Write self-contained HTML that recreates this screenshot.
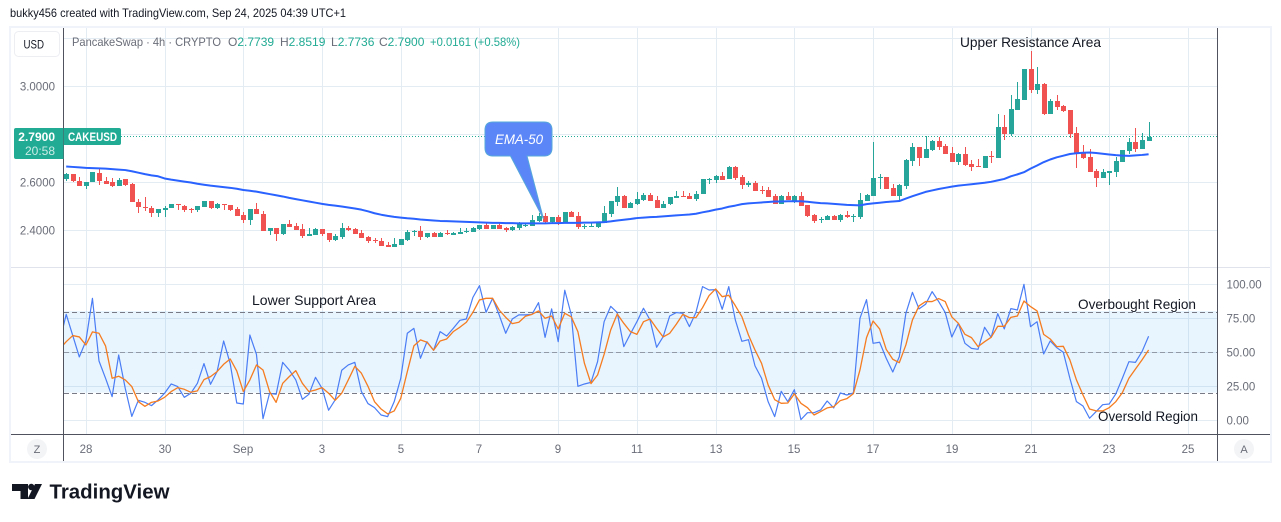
<!DOCTYPE html>
<html lang="en">
<head>
<meta charset="utf-8">
<title>CAKEUSD chart</title>
<style>
html,body{margin:0;padding:0;background:#fff;width:1281px;height:522px;overflow:hidden}
svg{display:block;font-family:"Liberation Sans",sans-serif}
</style>
</head>
<body>
<svg id="chart" xmlns="http://www.w3.org/2000/svg" width="1281" height="522" viewBox="0 0 1281 522">
  <defs>
    <clipPath id="pricePane"><rect x="64" y="28" width="1153" height="239"/></clipPath>
    <clipPath id="rsiPane"><rect x="64" y="268" width="1153" height="166"/></clipPath>
  </defs>
  <text x="10" y="17" font-size="12" fill="#131722" textLength="336" lengthAdjust="spacingAndGlyphs">bukky456 created with TradingView.com, Sep 24, 2025 04:39 UTC+1</text>
  <rect x="10" y="27" width="1261" height="435" fill="#fff" stroke="#f0f3fa" stroke-width="2"/>
  <g id="grid"></g>
  <rect id="rsiBand" x="64" width="1153" fill="#2196f3" fill-opacity="0.1"/>
  <g id="rsiLevels"></g>
  <line id="lastLine" x1="121" x2="1217" stroke="#22ab94" stroke-width="1" stroke-dasharray="1 2"/>
  <g id="candles" clip-path="url(#pricePane)" shape-rendering="crispEdges"></g>
  <path id="emaLine" fill="none" stroke="#2962ff" stroke-width="2" stroke-linejoin="round" clip-path="url(#pricePane)"/>
  <g clip-path="url(#rsiPane)">
    <path id="rsiLine" fill="none" stroke="#4a7df5" stroke-width="1.2" stroke-linejoin="round"/>
    <path id="rsiMaLine" fill="none" stroke="#f57c20" stroke-width="1.3" stroke-linejoin="round"/>
  </g>
  <line x1="11" x2="1270" y1="267.5" y2="267.5" stroke="#e0e3eb"/>
  <line x1="11" x2="1270" y1="434.5" y2="434.5" stroke="#50535e"/>
  <line x1="63.5" x2="63.5" y1="28" y2="461" stroke="#50535e"/>
  <line x1="1217.5" x2="1217.5" y1="28" y2="461" stroke="#50535e"/>

  <g>
    <path d="M493 122H544Q552 122 552 130V148Q552 156 544 156H527L543.5 219L510.5 156H493Q485 156 485 148V130Q485 122 493 122Z" fill="#5b86f8" stroke="#56a8da" stroke-width="1"/>
    <text x="519" y="144" text-anchor="middle" font-size="14" font-style="italic" fill="#fff" textLength="48" lengthAdjust="spacingAndGlyphs">EMA-50</text>
  </g>

  <rect x="14.5" y="31.5" width="45" height="25" rx="4" fill="#fff" stroke="#eceef2"/>
  <text x="23.5" y="48.5" font-size="11.5" fill="#131722" textLength="20.5" lengthAdjust="spacingAndGlyphs">USD</text>

  <g font-size="12">
    <text x="72" y="46" fill="#6a6d78" textLength="149" lengthAdjust="spacingAndGlyphs">PancakeSwap · 4h · CRYPTO</text>
    <text x="228" y="46" fill="#22ab94"><tspan fill="#6a6d78">O</tspan>2.7739</text>
    <text x="280" y="46" fill="#22ab94"><tspan fill="#6a6d78">H</tspan>2.8519</text>
    <text x="331" y="46" fill="#22ab94"><tspan fill="#6a6d78">L</tspan>2.7736</text>
    <text x="379" y="46" fill="#22ab94"><tspan fill="#6a6d78">C</tspan>2.7900</text>
    <text x="430" y="46" fill="#22ab94" textLength="90" lengthAdjust="spacingAndGlyphs">+0.0161 (+0.58%)</text>
  </g>

  <g id="priceTicks"></g>
  <g id="rsiTicks"></g>
  <g id="timeTicks"></g>

  <path d="M16 128H63.5V159H16Q14 159 14 157V130Q14 128 16 128Z" fill="#22ab94"/>
  <text x="55" y="141" text-anchor="end" font-size="12" font-weight="bold" fill="#fff">2.7900</text>
  <text x="55" y="155" text-anchor="end" font-size="12" fill="#c9ece6">20:58</text>
  <path d="M64 128H119Q121 128 121 130V143Q121 145 119 145H64Z" fill="#22ab94"/>
  <text x="92.5" y="141" text-anchor="middle" font-size="12" font-weight="bold" fill="#fff" textLength="49" lengthAdjust="spacingAndGlyphs">CAKEUSD</text>

  <g font-size="14" fill="#131722">
    <text x="960" y="47" textLength="141" lengthAdjust="spacingAndGlyphs">Upper Resistance Area</text>
    <text x="252" y="305" textLength="124" lengthAdjust="spacingAndGlyphs">Lower Support Area</text>
    <text x="1078" y="309" textLength="118" lengthAdjust="spacingAndGlyphs">Overbought Region</text>
    <text x="1098" y="421" textLength="100" lengthAdjust="spacingAndGlyphs">Oversold Region</text>
  </g>

  <circle cx="37" cy="449" r="10" fill="#f3f4f6"/>
  <text x="37" y="453" text-anchor="middle" font-size="11" fill="#6a6d78">Z</text>
  <circle cx="1244" cy="449" r="10" fill="#f3f4f6"/>
  <text x="1244" y="453" text-anchor="middle" font-size="11" fill="#6a6d78">A</text>

  <g>
    <path d="M12 484H28V499H20.5V491H12Z" fill="#131722"/>
    <circle cx="31.3" cy="487" r="3.2" fill="#131722"/>
    <path d="M35 484H42L34.5 499H27.5Z" fill="#131722"/>
    <text x="49.5" y="498.5" font-size="20" font-weight="bold" fill="#131722" textLength="120" lengthAdjust="spacingAndGlyphs">TradingView</text>
  </g>
</svg>

<script>
const opens = [
2.612,2.636,2.607,2.585,2.601,2.640,2.607,2.600,2.585,2.612,
2.592,2.519,2.499,2.494,2.471,2.485,2.493,2.508,2.503,2.488,
2.483,2.496,2.524,2.492,2.508,2.504,2.488,2.462,2.442,2.488,
2.469,2.396,2.408,2.383,2.428,2.417,2.404,2.375,2.379,2.404,
2.388,2.358,2.371,2.408,2.404,2.388,2.371,2.360,2.354,2.338,
2.329,2.338,2.358,2.392,2.396,2.371,2.388,2.371,2.388,2.379,
2.383,2.392,2.392,2.404,2.421,2.404,2.421,2.408,2.400,2.408,
2.417,2.417,2.438,2.458,2.433,2.454,2.433,2.475,2.458,2.414,
2.413,2.413,2.429,2.467,2.517,2.542,2.492,2.508,2.525,2.546,
2.525,2.492,2.508,2.533,2.542,2.542,2.529,2.550,2.611,2.608,
2.625,2.612,2.663,2.621,2.588,2.596,2.567,2.567,2.542,2.508,
2.542,2.521,2.542,2.504,2.463,2.443,2.442,2.458,2.442,2.463,
2.456,2.454,2.521,2.542,2.618,2.621,2.575,2.542,2.583,2.688,
2.746,2.700,2.733,2.771,2.750,2.721,2.683,2.717,2.675,2.667,
2.658,2.708,2.700,2.829,2.800,2.900,2.942,3.071,2.983,3.008,
2.883,2.938,2.917,2.900,2.804,2.721,2.704,2.646,2.617,2.637,
2.642,2.683,2.729,2.767,2.738,2.7739];
const highs = [
2.640,2.636,2.622,2.601,2.644,2.657,2.622,2.617,2.619,2.615,
2.596,2.529,2.540,2.503,2.490,2.500,2.508,2.508,2.506,2.492,
2.503,2.524,2.524,2.514,2.508,2.507,2.496,2.476,2.490,2.512,
2.482,2.408,2.408,2.428,2.442,2.432,2.425,2.408,2.408,2.407,
2.388,2.383,2.429,2.417,2.408,2.400,2.375,2.368,2.367,2.350,
2.367,2.363,2.400,2.400,2.417,2.388,2.392,2.392,2.400,2.392,
2.408,2.408,2.413,2.421,2.429,2.421,2.429,2.413,2.417,2.433,
2.429,2.463,2.471,2.471,2.454,2.463,2.475,2.479,2.475,2.425,
2.429,2.433,2.500,2.521,2.579,2.546,2.517,2.558,2.554,2.554,
2.542,2.521,2.538,2.563,2.563,2.554,2.563,2.612,2.619,2.629,
2.642,2.667,2.667,2.629,2.604,2.604,2.583,2.579,2.550,2.546,
2.558,2.546,2.558,2.504,2.467,2.454,2.463,2.463,2.467,2.479,
2.467,2.554,2.550,2.767,2.633,2.621,2.592,2.592,2.696,2.763,
2.746,2.792,2.775,2.788,2.758,2.746,2.721,2.746,2.692,2.696,
2.708,2.729,2.883,2.879,2.962,3.017,3.071,3.146,3.079,3.012,
2.946,2.962,2.921,2.900,2.829,2.754,2.738,2.654,2.654,2.646,
2.704,2.733,2.783,2.825,2.804,2.8519];
const lows = [
2.604,2.601,2.585,2.572,2.601,2.590,2.592,2.581,2.585,2.585,
2.518,2.471,2.482,2.454,2.457,2.454,2.493,2.486,2.475,2.471,
2.475,2.496,2.488,2.488,2.483,2.481,2.458,2.432,2.421,2.468,
2.396,2.379,2.354,2.379,2.412,2.400,2.367,2.375,2.379,2.376,
2.350,2.354,2.363,2.396,2.383,2.367,2.346,2.346,2.333,2.329,
2.329,2.338,2.354,2.375,2.358,2.367,2.371,2.371,2.379,2.379,
2.383,2.388,2.392,2.400,2.404,2.404,2.404,2.392,2.396,2.400,
2.413,2.417,2.433,2.429,2.429,2.421,2.433,2.454,2.404,2.404,
2.413,2.408,2.429,2.454,2.500,2.492,2.492,2.504,2.521,2.521,
2.492,2.492,2.504,2.533,2.538,2.529,2.521,2.550,2.592,2.596,
2.608,2.612,2.608,2.571,2.579,2.563,2.550,2.538,2.508,2.508,
2.525,2.512,2.500,2.454,2.429,2.429,2.442,2.442,2.433,2.450,
2.433,2.446,2.521,2.542,2.571,2.571,2.542,2.521,2.571,2.667,
2.667,2.700,2.729,2.733,2.717,2.683,2.671,2.667,2.646,2.662,
2.658,2.679,2.700,2.775,2.792,2.900,2.942,2.971,2.967,2.879,
2.883,2.900,2.892,2.783,2.658,2.696,2.642,2.579,2.617,2.587,
2.621,2.683,2.717,2.725,2.738,2.7736];
const closes = [
2.636,2.606,2.585,2.601,2.642,2.604,2.594,2.583,2.611,2.588,
2.518,2.496,2.494,2.472,2.488,2.494,2.508,2.504,2.483,2.483,
2.500,2.524,2.492,2.508,2.504,2.483,2.458,2.442,2.488,2.468,
2.396,2.408,2.385,2.428,2.412,2.400,2.375,2.383,2.404,2.383,
2.360,2.375,2.408,2.400,2.383,2.367,2.354,2.357,2.333,2.329,
2.342,2.363,2.392,2.396,2.371,2.388,2.371,2.388,2.383,2.388,
2.392,2.396,2.408,2.421,2.404,2.421,2.404,2.400,2.413,2.425,
2.421,2.442,2.458,2.433,2.454,2.433,2.475,2.454,2.413,2.417,
2.417,2.433,2.471,2.521,2.542,2.492,2.512,2.529,2.546,2.521,
2.492,2.508,2.538,2.542,2.538,2.529,2.550,2.612,2.614,2.625,
2.608,2.663,2.617,2.588,2.596,2.563,2.564,2.538,2.508,2.542,
2.525,2.542,2.500,2.458,2.438,2.446,2.458,2.442,2.463,2.454,
2.458,2.525,2.546,2.617,2.621,2.571,2.542,2.588,2.692,2.746,
2.700,2.737,2.771,2.746,2.717,2.683,2.717,2.671,2.662,2.662,
2.708,2.704,2.829,2.800,2.904,2.946,3.071,2.983,3.008,2.883,
2.938,2.913,2.896,2.800,2.717,2.700,2.642,2.617,2.642,2.646,
2.687,2.733,2.767,2.738,2.775,2.7900];
const ema50 = [
2.666,2.664,2.662,2.660,2.659,2.658,2.657,2.655,2.653,2.651,
2.646,2.640,2.634,2.629,2.625,2.616,2.611,2.607,2.603,2.599,
2.594,2.590,2.586,2.583,2.580,2.577,2.573,2.568,2.565,2.561,
2.556,2.551,2.546,2.541,2.535,2.530,2.525,2.520,2.515,2.510,
2.506,2.503,2.499,2.495,2.491,2.486,2.479,2.471,2.465,2.460,
2.456,2.453,2.450,2.448,2.445,2.443,2.441,2.439,2.438,2.437,
2.436,2.435,2.434,2.433,2.432,2.431,2.431,2.430,2.430,2.429,
2.429,2.429,2.429,2.429,2.430,2.430,2.431,2.431,2.431,2.432,
2.432,2.433,2.434,2.437,2.441,2.444,2.447,2.451,2.453,2.455,
2.456,2.458,2.460,2.462,2.464,2.466,2.469,2.475,2.480,2.486,
2.491,2.498,2.503,2.509,2.512,2.514,2.516,2.518,2.520,2.520,
2.521,2.521,2.521,2.519,2.516,2.513,2.512,2.510,2.508,2.506,
2.505,2.504,2.509,2.512,2.515,2.518,2.520,2.522,2.532,2.542,
2.551,2.560,2.566,2.572,2.577,2.582,2.586,2.589,2.592,2.595,
2.598,2.602,2.608,2.614,2.625,2.633,2.642,2.657,2.670,2.684,
2.695,2.704,2.711,2.718,2.721,2.723,2.724,2.722,2.719,2.716,
2.713,2.711,2.710,2.712,2.714,2.717];
const rsiBeforeStart = 57.8;
const rsiValues = [
77.9,62.3,46.6,58.3,89.7,43.6,30.9,17.4,48.0,23.5,
2.9,14.7,13.2,10.8,15.0,19.9,26.7,24.8,16.9,19.9,
27.2,41.7,26.5,35.8,58.3,41.7,12.7,12.0,62.7,48.5,
1.2,19.9,19.1,42.6,37.0,29.7,15.4,19.1,31.6,
23.5,7.4,15.0,36.8,40.7,42.6,21.1,12.3,9.3,3.9,
2.7,13.7,30.9,64.0,67.6,45.6,57.8,51.5,65.2,62.0,
67.6,73.5,74.5,90.4,99.0,79.4,89.7,77.5,64.0,74.5,
77.5,77.5,77.9,86.5,61.0,81.9,57.8,95.6,77.5,25.0,
26.7,27.9,43.1,72.5,83.8,79.2,54.2,63.5,72.5,
82.4,73.8,53.7,61.5,76.7,79.2,78.7,68.9,79.4,98.3,
95.8,96.1,81.6,98.3,73.8,58.1,59.3,40.0,30.9,13.7,
2.7,21.3,13.7,22.5,0.5,5.6,5.6,7.6,14.2,9.1,
20.1,18.6,20.1,75.0,88.7,56.6,57.4,45.6,35.5,46.8,
78.7,94.1,81.9,85.3,94.6,87.3,79.2,61.3,71.3,
56.6,52.9,52.2,68.4,61.0,78.4,67.2,82.1,81.1,100,
68.9,72.5,48.8,58.3,53.4,50.0,30.9,13.7,10.5,1.5,
6.4,11.5,12.0,19.4,30.9,43.1,42.6,50.5,61.8];
const rsiMaBeforeStart = 52.4;
const rsiMaValues = [
57.8,62.3,61.3,55.4,65.0,64.0,54.7,30.9,32.4,29.7,
24.8,13.7,10.3,13.2,14.2,16.9,21.1,24.0,22.8,20.6,
21.6,29.9,32.1,35.8,41.2,45.1,36.3,21.1,29.7,40.7,
37.0,21.1,13.2,27.2,32.1,36.5,27.2,21.1,22.3,
24.0,19.9,14.7,19.9,29.7,39.7,34.6,25.0,13.7,8.3,
4.7,6.9,16.2,35.8,54.7,59.1,57.4,51.5,58.3,59.8,
65.2,68.4,72.1,79.4,88.5,89.7,89.7,81.1,75.7,71.1,
72.1,76.5,77.9,80.4,75.0,76.7,67.2,78.7,76.0,65.2,
41.9,27.0,33.3,48.5,66.4,78.2,71.3,65.2,63.2,
72.5,74.5,67.6,61.3,64.0,70.6,77.9,75.5,75.5,82.8,
91.7,96.6,90.9,91.9,84.3,76.2,62.7,51.7,41.9,26.0,
15.2,12.5,12.7,19.4,12.5,9.3,3.9,6.4,9.1,10.0,
14.5,15.9,19.6,37.0,60.8,73.0,67.2,52.2,44.9,42.4,
55.4,73.8,84.1,87.3,87.3,89.5,87.3,76.0,71.3,
63.2,60.8,54.2,57.8,61.0,69.1,69.1,75.7,76.7,87.7,
83.6,80.4,63.2,59.8,54.2,54.4,44.4,29.7,18.6,8.3,
6.9,6.9,9.3,13.7,20.3,30.9,37.7,44.4,51.7];
const priceGridValues = [3.2,3.0,2.8,2.6,2.4];
const priceTickLabels = ["3.0000","2.6000","2.4000"];
const rsiTickValues = [100,75,50,25,0];
const rsiLevelValues = [80,50,20];
const timeTickLabels = ["28","30","Sep","3","5","7","9","11","13","15","17","19","21","23","25"];
const lastPrice = 2.79;

const SVG_NS = "http://www.w3.org/2000/svg";
const firstTickBar = 3, barsPerTick = 12;
function xBar(i){ return 66.2 + 6.56 * i; }
function yPrice(p){ return 86.3 + (3 - p) * 240; }
function yRsi(v){ return 420.3 - 1.36 * v; }
function make(tag, parent, attrs){
  const el = document.createElementNS(SVG_NS, tag);
  for (const k in attrs) el.setAttribute(k, attrs[k]);
  parent.appendChild(el);
  return el;
}
function linePath(values, yFn, startIndex){
  return values.map((v, i) => (i ? "L" : "M") + xBar(i + startIndex).toFixed(2) + " " + yFn(v).toFixed(2)).join("");
}

const grid = document.getElementById("grid");
priceGridValues.forEach(p => {
  const y = Math.round(yPrice(p)) + 0.5;
  const l = make("line", grid, {x1:64, x2:1217, y1:y, y2:y, stroke:"#e4ecf3"});
  
  
});
rsiTickValues.forEach(v => {
  const y = Math.round(yRsi(v)) + 0.5;
  const l = make("line", grid, {x1:64, x2:1217, y1:y, y2:y, stroke:"#e4ecf3"});
  
  
});
timeTickLabels.forEach((label, k) => {
  const x = Math.round(xBar(firstTickBar + k * barsPerTick)) + 0.5;
  const upper = make("line", grid, {x1:x, x2:x, y1:28, y2:267, stroke:"#e4ecf3"});
  
  
  const lower = make("line", grid, {x1:x, x2:x, y1:268, y2:434, stroke:"#e4ecf3"});
  
  
  const t = make("text", document.getElementById("timeTicks"), {x:x - 0.5, y:453, "text-anchor":"middle", "font-size":11.5, fill:"#6a6d78"});
  
  
  t.textContent = label;
});

priceTickLabels.forEach(label => {
  const t = make("text", document.getElementById("priceTicks"), {x:55, y:yPrice(parseFloat(label)) + 4.2, "text-anchor":"end", "font-size":11.5, fill:"#6a6d78"});
  
  
  t.textContent = label;
});
rsiTickValues.forEach(v => {
  const t = make("text", document.getElementById("rsiTicks"), {x:1226.5, y:yRsi(v) + 4.2, "font-size":11.5, fill:"#6a6d78"});
  
  
  t.textContent = v.toFixed(2);
});

const band = document.getElementById("rsiBand");
band.setAttribute("y", yRsi(rsiLevelValues[0]) - 0.5);
band.setAttribute("height", yRsi(rsiLevelValues[2]) - yRsi(rsiLevelValues[0]));
rsiLevelValues.forEach(v => {
  const y = Math.round(yRsi(v)) + 0.5;
  const l = make("line", document.getElementById("rsiLevels"), {x1:64, x2:1217, y1:y, y2:y, stroke:"#787b86", "stroke-dasharray":"5 3", "stroke-opacity": v === 50 ? 0.7 : 1});
  
  
});

const lastLine = document.getElementById("lastLine");
lastLine.setAttribute("y1", Math.floor(yPrice(lastPrice)) + 0.5);
lastLine.setAttribute("y2", Math.floor(yPrice(lastPrice)) + 0.5);

const candles = document.getElementById("candles");
closes.forEach((c, i) => {
  const o = opens[i], up = c >= o;
  const color = up ? "#26a69a" : "#f05252";
  const xc = Math.round(xBar(i));
  const wick = make("rect", candles, {x:xc, width:1, y:Math.round(yPrice(highs[i])), height:Math.max(1, Math.round(yPrice(lows[i])) - Math.round(yPrice(highs[i]))), fill:color});
  
  
  const top = Math.round(yPrice(Math.max(o, c)));
  const bottom = Math.round(yPrice(Math.min(o, c)));
  const body = make("rect", candles, {x:xc - 2, width:5, y:top, height:Math.max(1, bottom - top), fill:color});
  
  
});

document.getElementById("emaLine").setAttribute("d", linePath(ema50, yPrice, 0));
document.getElementById("rsiLine").setAttribute("d", linePath([rsiBeforeStart].concat(rsiValues), yRsi, -1));
document.getElementById("rsiMaLine").setAttribute("d", linePath([rsiMaBeforeStart].concat(rsiMaValues), yRsi, -1));
</script>
</body>
</html>
